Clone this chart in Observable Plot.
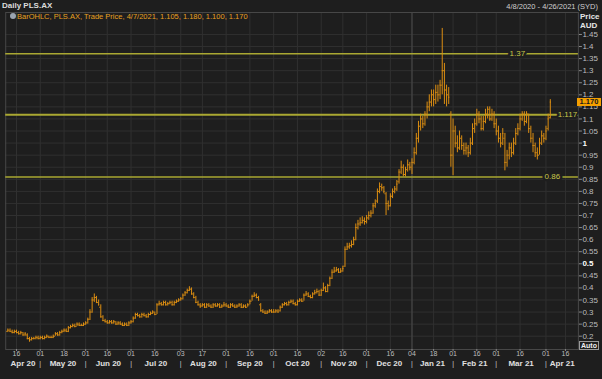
<!DOCTYPE html>
<html><head><meta charset="utf-8">
<script src="https://cdn.jsdelivr.net/npm/d3@7"></script>
<script src="https://cdn.jsdelivr.net/npm/@observablehq/plot@0.6"></script>
<style>
html,body{margin:0;padding:0;background:#1e1e1e;}
#wrap{position:relative;width:602px;height:379px;overflow:hidden;font-family:"Liberation Sans",Arial,sans-serif;background:#1e1e1e;}
#wrap svg{position:absolute;left:0;top:0;}
.t{position:absolute;white-space:nowrap;font-size:8px;line-height:1;}
</style></head><body><div id="wrap"></div>
<script>
// ---- calendar (ASX trading days) ----
const startDate = "2020-04-08";
const endDate = "2021-04-26";
const holidays = ["2020-04-10","2020-04-13","2020-06-08","2020-12-25","2020-12-28","2021-01-01","2021-01-26","2021-04-02","2021-04-05"];

// ---- daily OHLC bars, 2020-04-08 .. 2021-04-07 (one row per month) ----
const open = [
0.22,0.225,0.22,0.215,0.22,0.215,0.21,0.215,0.205,0.205,0.19,0.185,0.19,0.19,0.195,
0.19,0.195,0.19,0.195,0.2,0.195,0.195,0.2,0.21,0.205,0.215,0.22,0.225,0.22,0.235,0.24,0.245,0.24,0.25,0.245,0.245,
0.25,0.255,0.27,0.3,0.35,0.36,0.34,0.32,0.28,0.265,0.26,0.255,0.26,0.255,0.26,0.25,0.255,0.25,0.245,0.25,0.245,
0.255,0.26,0.275,0.29,0.285,0.28,0.29,0.285,0.28,0.29,0.295,0.3,0.29,0.33,0.335,0.33,0.34,0.33,0.335,0.34,0.33,0.34,0.345,
0.35,0.355,0.37,0.38,0.39,0.395,0.375,0.36,0.34,0.33,0.325,0.33,0.32,0.33,0.325,0.32,0.33,0.325,0.33,0.32,0.325,
0.33,0.325,0.32,0.33,0.325,0.32,0.325,0.33,0.32,0.325,0.32,0.33,0.345,0.365,0.37,0.36,0.33,0.305,0.3,0.295,0.3,0.305,
0.3,0.3,0.305,0.305,0.32,0.33,0.335,0.33,0.34,0.345,0.335,0.33,0.345,0.35,0.345,0.37,0.375,0.365,0.36,0.375,0.38,0.385,
0.37,0.39,0.4,0.385,0.41,0.44,0.465,0.47,0.475,0.465,0.47,0.49,0.56,0.57,0.575,0.58,0.6,0.65,0.665,0.67,0.68,
0.675,0.69,0.7,0.71,0.74,0.76,0.8,0.82,0.815,0.79,0.75,0.74,0.78,0.8,0.81,0.84,0.88,0.9,0.87,0.89,0.91,
0.9,0.92,0.96,1.02,1.07,1.1,1.08,1.12,1.15,1.17,1.2,1.18,1.21,1.2,1.24,1.3,1.22,1.2,1.12,
0.95,1.05,1.0,0.98,1.02,0.99,0.97,0.98,0.96,1.0,1.06,1.08,1.12,1.1,1.06,1.09,1.12,1.14,1.1,1.12,
1.08,1.05,1.02,1.0,1.02,0.92,0.95,0.98,0.96,1.0,1.04,1.06,1.1,1.12,1.09,1.12,1.06,1.02,0.99,0.96,0.95,1.0,1.03,
1.02,1.06,1.105];
const high = [
0.23,0.23,0.225,0.225,0.225,0.22,0.22,0.215,0.215,0.21,0.195,0.195,0.195,0.2,0.2,
0.2,0.2,0.2,0.205,0.2,0.2,0.205,0.215,0.215,0.22,0.225,0.23,0.23,0.24,0.245,0.25,0.25,0.255,0.255,0.25,0.255,
0.26,0.275,0.31,0.36,0.375,0.365,0.35,0.33,0.285,0.27,0.265,0.265,0.265,0.265,0.26,0.26,0.26,0.255,0.255,0.255,0.26,
0.265,0.28,0.295,0.295,0.29,0.295,0.295,0.29,0.295,0.3,0.305,0.3,0.335,0.345,0.34,0.345,0.345,0.34,0.345,0.345,0.345,0.35,0.355,
0.36,0.375,0.385,0.395,0.405,0.4,0.38,0.365,0.345,0.335,0.335,0.335,0.335,0.335,0.33,0.335,0.335,0.335,0.335,0.33,0.34,
0.335,0.33,0.335,0.335,0.33,0.33,0.335,0.335,0.33,0.33,0.335,0.35,0.37,0.38,0.375,0.365,0.335,0.31,0.305,0.305,0.31,0.31,
0.31,0.31,0.31,0.325,0.335,0.34,0.34,0.345,0.35,0.35,0.34,0.35,0.355,0.355,0.375,0.385,0.38,0.37,0.38,0.39,0.395,0.39,
0.395,0.42,0.405,0.415,0.445,0.475,0.485,0.485,0.48,0.48,0.49,0.57,0.585,0.585,0.595,0.61,0.665,0.68,0.69,0.695,0.69,
0.7,0.715,0.72,0.75,0.765,0.81,0.835,0.83,0.82,0.795,0.76,0.79,0.81,0.82,0.845,0.89,0.925,0.91,0.9,0.93,0.92,
0.935,0.98,1.04,1.09,1.12,1.11,1.13,1.17,1.2,1.22,1.22,1.24,1.24,1.26,1.475,1.33,1.24,1.23,1.13,
1.1,1.07,1.03,1.05,1.03,1.0,1.0,0.99,1.02,1.08,1.1,1.14,1.13,1.11,1.11,1.14,1.15,1.15,1.14,1.13,
1.1,1.07,1.04,1.06,1.04,0.97,1.0,1.0,1.02,1.06,1.08,1.12,1.13,1.13,1.13,1.12,1.07,1.04,1.0,0.98,1.02,1.05,1.04,
1.07,1.12,1.18];
const low = [
0.215,0.215,0.21,0.21,0.21,0.205,0.205,0.2,0.2,0.185,0.175,0.18,0.185,0.185,0.185,
0.185,0.185,0.185,0.19,0.19,0.19,0.19,0.2,0.2,0.2,0.21,0.215,0.215,0.215,0.23,0.235,0.235,0.24,0.24,0.24,0.24,
0.245,0.25,0.265,0.295,0.34,0.335,0.325,0.275,0.26,0.255,0.25,0.25,0.25,0.25,0.245,0.245,0.245,0.24,0.24,0.24,0.24,
0.25,0.255,0.27,0.28,0.275,0.275,0.28,0.275,0.275,0.285,0.29,0.285,0.29,0.325,0.325,0.325,0.325,0.325,0.33,0.325,0.325,0.335,0.34,
0.345,0.35,0.365,0.375,0.385,0.37,0.355,0.335,0.325,0.315,0.32,0.315,0.315,0.32,0.315,0.315,0.32,0.32,0.315,0.315,0.32,
0.32,0.315,0.315,0.32,0.315,0.315,0.32,0.315,0.315,0.315,0.32,0.33,0.345,0.36,0.355,0.345,0.3,0.295,0.29,0.29,0.295,0.295,
0.295,0.295,0.295,0.3,0.315,0.325,0.325,0.325,0.335,0.33,0.325,0.325,0.34,0.34,0.345,0.365,0.36,0.355,0.355,0.37,0.375,0.365,
0.365,0.385,0.38,0.38,0.405,0.435,0.46,0.465,0.46,0.46,0.465,0.485,0.555,0.56,0.565,0.575,0.595,0.64,0.655,0.665,0.66,
0.665,0.68,0.69,0.705,0.73,0.75,0.79,0.8,0.79,0.7,0.72,0.735,0.77,0.79,0.8,0.83,0.87,0.86,0.86,0.88,0.885,
0.87,0.91,0.95,1.0,1.05,1.06,1.07,1.1,1.13,1.15,1.15,1.16,1.17,1.18,1.2,1.16,1.15,1.16,0.9,
0.865,0.98,0.96,0.97,0.97,0.95,0.95,0.94,0.95,0.99,1.04,1.07,1.08,1.05,1.05,1.08,1.1,1.09,1.09,1.06,
1.03,1.0,0.98,0.99,0.885,0.9,0.93,0.94,0.95,0.99,1.03,1.05,1.09,1.07,1.08,1.04,1.0,0.96,0.94,0.93,0.95,0.99,1.0,
1.01,1.05,1.1];
const close = [
0.225,0.22,0.215,0.22,0.215,0.21,0.215,0.205,0.21,0.19,0.185,0.19,0.19,0.195,0.19,
0.195,0.19,0.195,0.2,0.195,0.195,0.2,0.21,0.205,0.215,0.22,0.225,0.22,0.235,0.24,0.245,0.24,0.25,0.245,0.245,0.25,
0.255,0.27,0.3,0.35,0.36,0.34,0.33,0.28,0.265,0.26,0.255,0.26,0.255,0.26,0.25,0.255,0.25,0.245,0.25,0.245,0.255,
0.26,0.275,0.29,0.285,0.28,0.29,0.285,0.28,0.29,0.295,0.3,0.29,0.33,0.335,0.33,0.34,0.33,0.335,0.34,0.33,0.34,0.345,0.35,
0.355,0.37,0.38,0.39,0.395,0.375,0.36,0.34,0.33,0.325,0.33,0.32,0.33,0.325,0.32,0.33,0.325,0.33,0.32,0.325,0.33,
0.325,0.32,0.33,0.325,0.32,0.325,0.33,0.32,0.325,0.32,0.33,0.345,0.365,0.37,0.36,0.35,0.305,0.3,0.295,0.3,0.305,0.3,
0.3,0.305,0.3,0.32,0.33,0.335,0.33,0.34,0.345,0.335,0.33,0.345,0.35,0.345,0.37,0.375,0.365,0.36,0.375,0.38,0.385,0.37,
0.39,0.4,0.385,0.41,0.44,0.465,0.47,0.475,0.465,0.47,0.48,0.56,0.57,0.575,0.58,0.6,0.65,0.665,0.67,0.68,0.675,
0.69,0.7,0.71,0.74,0.75,0.8,0.82,0.815,0.8,0.75,0.74,0.78,0.8,0.81,0.83,0.88,0.9,0.87,0.89,0.91,0.9,
0.92,0.96,1.02,1.07,1.1,1.08,1.12,1.15,1.17,1.2,1.18,1.21,1.2,1.24,1.3,1.22,1.2,1.19,0.95,
1.05,1.0,0.98,1.02,0.99,0.97,0.98,0.96,1.0,1.06,1.08,1.12,1.1,1.06,1.09,1.12,1.14,1.1,1.12,1.08,
1.05,1.02,1.0,1.04,0.92,0.95,0.98,0.96,1.0,1.04,1.06,1.1,1.12,1.09,1.12,1.06,1.02,0.99,0.96,0.95,1.0,1.03,1.02,
1.05,1.1,1.17];

// ---- reference levels drawn on the chart ----
const levelValues = [1.37, 1.117, 0.86];
const levelLabels = ["1.37", "1.117", "0.86"];

// ---- axis tick values ----
const yTicks = d3.range(4, 30).map(k => k / 20);          // 0.2 .. 1.45
const yBoldTicks = [0.5, 1];
const monthNames = ["Jan","Feb","Mar","Apr","May","Jun","Jul","Aug","Sep","Oct","Nov","Dec"];

// ---- build calendar ----
const days = [];
{
  const hol = new Set(holidays);
  let d = new Date(startDate + "T00:00:00Z");
  const end = new Date(endDate + "T00:00:00Z");
  while (d <= end) {
    const wd = d.getUTCDay();
    const iso = d.toISOString().slice(0,10);
    if (wd !== 0 && wd !== 6 && !hol.has(iso)) days.push(new Date(d));
    d = new Date(d.getTime() + 86400000);
  }
}
const lastIndex = days.length - 1;
const bars = close.map((c, i) => ({i, o: open[i], h: high[i], l: low[i], c}));

// ticks: first trading day on/after the 1st and the 16th of each month
const tickIdx = [];
const monthStarts = [];
days.forEach((d, i) => {
  const prev = i > 0 ? days[i-1] : null;
  const dd = d.getUTCDate();
  if (prev && prev.getUTCMonth() !== d.getUTCMonth()) { tickIdx.push(i); monthStarts.push(i); }
  else if (prev && dd >= 16 && prev.getUTCDate() < 16) tickIdx.push(i);
});
const bounds = [-1, ...monthStarts, lastIndex];
const months = [];
for (let k = 0; k < bounds.length - 1; k++) {
  const di = days[Math.max(0, bounds[k])];
  months.push({x: (bounds[k] + bounds[k+1]) / 2,
    label: monthNames[di.getUTCMonth()] + " " + String(di.getUTCFullYear()).slice(2)});
}
const yearStart = monthStarts.filter(i => days[i].getUTCMonth() === 0);

const W = 602, H = 379;
const BG = "#1e1e1e", GRID = "#303030", ORANGE = "#dc8e12", LEVEL = "#aaa832", TXT = "#c8c8c8";
const fmt = v => String(+v.toFixed(3));

const chart = Plot.plot({
  width: W, height: H,
  marginLeft: 5.2, marginRight: 24.1, marginTop: 12, marginBottom: 30,
  style: {background: BG, color: TXT, fontFamily: "'Liberation Sans', Arial, sans-serif", fontSize: "8px"},
  x: {domain: [-1, lastIndex], axis: null},
  y: {domain: [0.1449, 1.541], axis: null},
  marks: [
    Plot.gridY(yTicks, {stroke: GRID, strokeOpacity: 1}),
    Plot.gridX(tickIdx, {stroke: GRID, strokeOpacity: 1}),
    Plot.gridX(yearStart, {stroke: "#4a4a4a", strokeOpacity: 1}),
    Plot.frame({stroke: "#474747"}),
    Plot.ruleY([levelValues[0], levelValues[2]], {stroke: LEVEL, strokeWidth: 1.5}),
    Plot.ruleY([levelValues[1]], {stroke: LEVEL, strokeWidth: 2}),
    Plot.ruleX(bars, {x: "i", y1: "l", y2: "h", stroke: ORANGE, strokeWidth: 1}),
    Plot.ruleY(bars, {y: "o", x1: d => d.i - 0.5, x2: "i", stroke: ORANGE, strokeWidth: 1}),
    Plot.ruleY(bars, {y: "c", x1: "i", x2: d => d.i + 0.5, stroke: ORANGE, strokeWidth: 1}),
    Plot.text([levelValues[0]], {y: d => d, text: () => levelLabels[0], frameAnchor: "right", textAnchor: "middle", dx: -61, fill: "#c9c64a", stroke: BG, strokeWidth: 5, fontSize: 8}),
    Plot.text([levelValues[2]], {y: d => d, text: () => levelLabels[2], frameAnchor: "right", textAnchor: "middle", dx: -26, fill: "#c9c64a", stroke: BG, strokeWidth: 5, fontSize: 8}),
    Plot.text([levelValues[1]], {y: d => d, text: () => levelLabels[1], frameAnchor: "right", textAnchor: "middle", dx: -11, fill: "#c9c64a", stroke: BG, strokeWidth: 4, fontSize: 8}),
    Plot.axisY(yTicks.filter(v => !yBoldTicks.includes(v)), {anchor: "right", tickSize: 3, tickPadding: 1, tickFormat: fmt, fill: "#bdbdbd", stroke: "#8a8a8a", fontSize: 8}),
    Plot.axisY(yBoldTicks, {anchor: "right", tickSize: 3, tickPadding: 1, tickFormat: fmt, fill: "#ffffff", stroke: "#8a8a8a", fontWeight: "bold", fontSize: 8}),
    Plot.axisX(tickIdx, {anchor: "bottom", tickSize: 2, tickPadding: 0, tickFormat: i => String(days[i].getUTCDate()).padStart(2, "0"), fill: "#bdbdbd", stroke: "#8a8a8a", fontSize: 7}),
    Plot.text(months, {x: "x", text: "label", frameAnchor: "bottom", dy: 16, fill: "#e0e0e0", fontWeight: "bold", fontSize: 8}),
    Plot.text(monthStarts, {x: d => d, text: () => "|", frameAnchor: "bottom", dy: 16.5, fill: "#cfcfcf", fontSize: 7})
  ]
});
const wrap = document.getElementById("wrap");
wrap.appendChild(chart);

const ys = chart.scale("y");
function addText(txt, css) {
  const el = document.createElement("div");
  el.className = "t";
  el.textContent = txt;
  Object.assign(el.style, css);
  wrap.appendChild(el);
  return el;
}
// header
addText("Daily PLS.AX", {left: "2px", top: "2px", color: "#dcdcdc", fontWeight: "bold"});
addText("4/8/2020 - 4/26/2021 (SYD)", {right: "4px", top: "3px", color: "#cfcfcf", fontSize: "7.5px"});
addText("Price", {left: "580px", top: "13px", color: "#e6e6e6", fontWeight: "bold"});
addText("AUD", {left: "580px", top: "22px", color: "#e6e6e6", fontWeight: "bold"});
// legend
addText("", {left: "10px", top: "13px", width: "6px", height: "6px", borderRadius: "50%", background: "#9aa4b0"});
const b = bars[bars.length - 1];
const dl = days[bars.length - 1];
const dstr = (dl.getUTCMonth()+1) + "/" + dl.getUTCDate() + "/" + dl.getUTCFullYear();
addText(["BarOHLC", "PLS.AX", "Trade Price", dstr, b.o.toFixed(3), b.h.toFixed(3), b.l.toFixed(3), b.c.toFixed(3)].join(",  "),
  {left: "17px", top: "13px", color: "#e8a020", fontSize: "7.5px"});
// last price box
const py = ys.apply(b.c);
addText(b.c.toFixed(3), {left: "577px", top: (py - 3.5) + "px", width: "24px", height: "7.5px", background: "#f5a000", color: "#1a1a1a", fontWeight: "bold", fontSize: "7.5px", textAlign: "center", lineHeight: "7.5px"});
// auto box
addText("Auto", {left: "579px", top: "341px", color: "#f0f0f0", fontWeight: "bold", fontSize: "7px", border: "1px solid #9a9a9a", padding: "0 1px", lineHeight: "7px"});
</script></body></html>
